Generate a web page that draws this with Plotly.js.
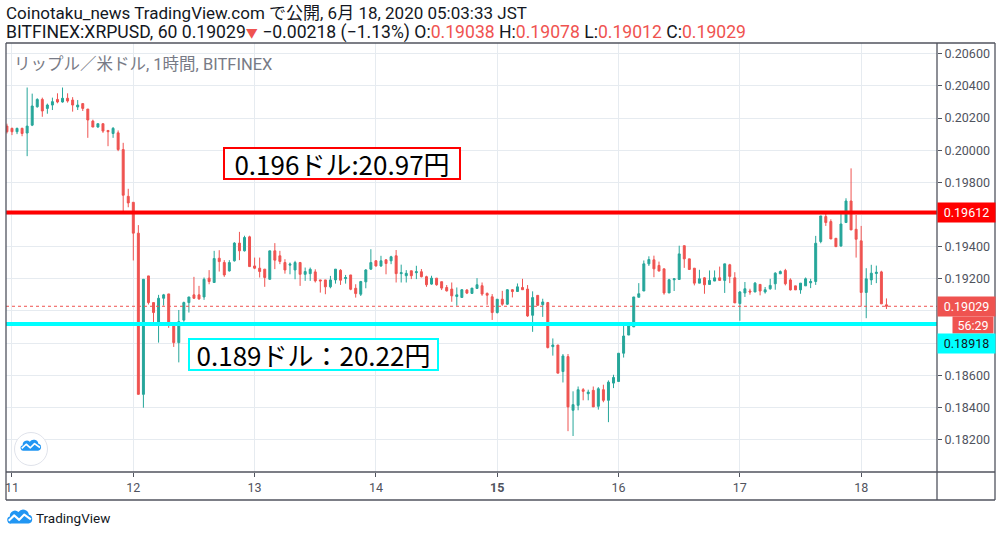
<!DOCTYPE html>
<html>
<head>
<meta charset="utf-8">
<script src="https://cdn.plot.ly/plotly-3.0.1.min.js"></script>
<style>
html,body{margin:0;padding:0;background:#fff;}
#chart{width:1002px;height:537px;}
</style>
</head>
<body>
<div id="chart"></div>
<script>
// ---- data (XRPUSD 1h candles, from 2020-06-10 23:00) ----
const startTime = '2020-06-10 23:00';
const open = [
0.20150,0.20136,0.20115,0.20136,0.20107,0.20156,0.20270,0.20316,0.20260,0.20281,
0.20316,0.20300,0.20323,0.20312,0.20269,0.20290,0.20256,0.20181,0.20144,0.20165,
0.20123,0.20104,0.20108,0.20004,0.19713,0.19676,0.19484,0.18481,0.19218,0.19052,
0.18928,0.19079,0.19106,0.18906,0.18803,0.18943,0.19052,0.19100,0.19100,0.19087,
0.19204,0.19177,0.19328,0.19301,0.19249,0.19312,0.19422,0.19374,0.19461,0.19280,
0.19266,0.19260,0.19197,0.19374,0.19343,0.19301,0.19285,0.19255,0.19301,0.19228,
0.19232,0.19243,0.19193,0.19193,0.19150,0.19193,0.19253,0.19201,0.19224,0.19141,
0.19104,0.19181,0.19260,0.19312,0.19280,0.19318,0.19312,0.19343,0.19232,0.19219,
0.19250,0.19238,0.19244,0.19213,0.19167,0.19204,0.19182,0.19146,0.19136,0.19090,
0.19084,0.19130,0.19109,0.19140,0.19157,0.19109,0.19088,0.18990,0.19073,0.19042,
0.19132,0.19121,0.19146,0.19136,0.18973,0.19097,0.19039,0.19052,0.18778,0.18788,
0.18623,0.18716,0.18382,0.18413,0.18510,0.18485,0.18506,0.18407,0.18510,0.18444,
0.18551,0.18561,0.18737,0.18850,0.18901,0.19085,0.19124,0.19293,0.19318,0.19283,
0.19262,0.19112,0.19194,0.19196,0.19406,0.19324,0.19266,0.19173,0.19206,0.19165,
0.19186,0.19206,0.19190,0.19287,0.19206,0.19046,0.19112,0.19124,0.19118,0.19165,
0.19118,0.19138,0.19169,0.19231,0.19252,0.19193,0.19156,0.19131,0.19156,0.19175,
0.19183,0.19432,0.19587,0.19556,0.19452,0.19404,0.19550,0.19684,0.19508,0.19436,
0.19115,0.19193,0.19233,0.19243,0.19038];
const high = [
0.20165,0.20140,0.20140,0.20140,0.20390,0.20352,0.20323,0.20327,0.20290,0.20327,
0.20354,0.20390,0.20354,0.20330,0.20312,0.20290,0.20256,0.20190,0.20165,0.20165,
0.20123,0.20144,0.20123,0.20046,0.19760,0.19676,0.19534,0.19197,0.19218,0.19052,
0.19100,0.19106,0.19106,0.18922,0.19006,0.19058,0.19087,0.19212,0.19156,0.19208,
0.19254,0.19374,0.19378,0.19316,0.19316,0.19428,0.19492,0.19468,0.19468,0.19332,
0.19332,0.19260,0.19374,0.19422,0.19374,0.19322,0.19301,0.19312,0.19305,0.19270,
0.19270,0.19259,0.19193,0.19193,0.19218,0.19260,0.19260,0.19224,0.19224,0.19166,
0.19187,0.19260,0.19384,0.19316,0.19343,0.19322,0.19343,0.19379,0.19288,0.19254,
0.19250,0.19281,0.19261,0.19219,0.19219,0.19204,0.19182,0.19161,0.19177,0.19146,
0.19136,0.19136,0.19142,0.19204,0.19177,0.19115,0.19105,0.19073,0.19125,0.19136,
0.19136,0.19171,0.19200,0.19161,0.19122,0.19097,0.19076,0.19056,0.18829,0.18788,
0.18732,0.18732,0.18500,0.18530,0.18520,0.18510,0.18530,0.18526,0.18541,0.18568,
0.18603,0.18737,0.18912,0.18912,0.19087,0.19173,0.19314,0.19340,0.19344,0.19307,
0.19262,0.19200,0.19200,0.19406,0.19406,0.19324,0.19266,0.19256,0.19210,0.19252,
0.19252,0.19276,0.19293,0.19293,0.19241,0.19124,0.19180,0.19138,0.19180,0.19165,
0.19149,0.19200,0.19241,0.19252,0.19262,0.19203,0.19156,0.19173,0.19208,0.19200,
0.19467,0.19591,0.19608,0.19570,0.19452,0.19607,0.19701,0.19887,0.19597,0.19529,
0.19266,0.19287,0.19282,0.19250,0.19078];
const low = [
0.20104,0.20094,0.20100,0.20087,0.19963,0.20150,0.20265,0.20208,0.20227,0.20250,
0.20292,0.20296,0.20296,0.20240,0.20250,0.20244,0.20077,0.20144,0.20140,0.20108,
0.20025,0.20077,0.19994,0.19620,0.19645,0.19314,0.18481,0.18398,0.19040,0.18928,
0.18803,0.19033,0.18895,0.18776,0.18680,0.18933,0.18990,0.19075,0.19069,0.19069,
0.19166,0.19177,0.19245,0.19212,0.19245,0.19307,0.19316,0.19370,0.19276,0.19260,
0.19208,0.19150,0.19195,0.19260,0.19291,0.19232,0.19228,0.19197,0.19156,0.19187,
0.19187,0.19177,0.19114,0.19104,0.19141,0.19170,0.19162,0.19170,0.19129,0.19083,
0.19093,0.19141,0.19255,0.19276,0.19274,0.19228,0.19291,0.19177,0.19177,0.19177,
0.19198,0.19198,0.19209,0.19150,0.19163,0.19157,0.19130,0.19121,0.19057,0.19032,
0.19084,0.19105,0.19109,0.19140,0.19094,0.19038,0.18944,0.18984,0.19032,0.19038,
0.19084,0.19121,0.19132,0.18963,0.18870,0.19031,0.18963,0.18767,0.18722,0.18613,
0.18555,0.18252,0.18222,0.18382,0.18444,0.18444,0.18403,0.18386,0.18432,0.18308,
0.18520,0.18561,0.18710,0.18850,0.18901,0.19085,0.19124,0.19280,0.19210,0.19248,
0.19101,0.19112,0.19124,0.19196,0.19268,0.19258,0.19159,0.19173,0.19107,0.19165,
0.19186,0.19190,0.19112,0.19173,0.19050,0.18939,0.19087,0.19101,0.19118,0.19097,
0.19108,0.19132,0.19132,0.19231,0.19159,0.19127,0.19131,0.19107,0.19156,0.19142,
0.19162,0.19421,0.19529,0.19448,0.19400,0.19400,0.19550,0.19504,0.19332,0.19028,
0.18955,0.19162,0.19173,0.19044,0.19012];
const close = [
0.20115,0.20115,0.20136,0.20104,0.20150,0.20275,0.20316,0.20244,0.20281,0.20302,
0.20300,0.20323,0.20306,0.20281,0.20281,0.20260,0.20188,0.20144,0.20165,0.20119,
0.20115,0.20136,0.20004,0.19720,0.19672,0.19484,0.18481,0.19197,0.19052,0.18990,
0.19079,0.19100,0.18922,0.18803,0.18933,0.19052,0.19087,0.19079,0.19075,0.19197,
0.19183,0.19326,0.19307,0.19224,0.19301,0.19422,0.19374,0.19457,0.19276,0.19266,
0.19245,0.19208,0.19374,0.19316,0.19308,0.19255,0.19291,0.19301,0.19228,0.19245,
0.19259,0.19187,0.19187,0.19150,0.19193,0.19260,0.19191,0.19208,0.19135,0.19108,
0.19183,0.19255,0.19301,0.19280,0.19312,0.19295,0.19337,0.19232,0.19238,0.19234,
0.19219,0.19244,0.19213,0.19163,0.19204,0.19163,0.19142,0.19125,0.19094,0.19100,
0.19132,0.19111,0.19142,0.19163,0.19105,0.19098,0.18990,0.19073,0.19042,0.19132,
0.19121,0.19150,0.19132,0.18969,0.19083,0.19035,0.19056,0.18772,0.18788,0.18613,
0.18720,0.18403,0.18417,0.18510,0.18500,0.18495,0.18403,0.18516,0.18444,0.18557,
0.18586,0.18737,0.18844,0.18912,0.19087,0.19107,0.19293,0.19320,0.19262,0.19248,
0.19112,0.19194,0.19200,0.19355,0.19324,0.19258,0.19173,0.19200,0.19163,0.19190,
0.19206,0.19190,0.19293,0.19215,0.19050,0.19118,0.19138,0.19118,0.19173,0.19124,
0.19132,0.19159,0.19235,0.19245,0.19169,0.19131,0.19131,0.19173,0.19200,0.19183,
0.19421,0.19591,0.19550,0.19448,0.19400,0.19541,0.19684,0.19504,0.19446,0.19115,
0.19200,0.19235,0.19241,0.19044,0.19029];

const dayTicks = ['2020-06-11','2020-06-12','2020-06-13','2020-06-14','2020-06-15','2020-06-16','2020-06-17','2020-06-18'];
const dayLabels = ['11','12','13','14','<b>15</b>','16','17','18'];
const priceTicks = [0.182,0.184,0.186,0.188,0.190,0.192,0.194,0.196,0.198,0.200,0.202,0.204,0.206];
const hiddenPriceTicks = [0.188, 0.190, 0.196]; // covered by the price boxes
const resistance = 0.19612;   // 0.196ドル
const support = 0.18918;      // 0.189ドル
const resistanceNote = '0.196ドル:20.97円';
const supportNote = '0.189ドル：20.22円';
const changeText = '−0.00218 (−1.13%)';
const countdown = '56:29';
const headerLine1 = 'Coinotaku_news TradingView.com で公開, 6月 18, 2020 05:03:33 JST';
const symbolText = 'BITFINEX:XRPUSD, 60';
const legendText = 'リップル／米ドル, 1時間, BITFINEX';

// ---- build ----
const t0 = Date.parse(startTime.replace(' ', 'T') + ':00Z');
const times = open.map((_, i) => new Date(t0 + i * 3600000).toISOString().slice(0, 16).replace('T', ' '));
const n = close.length;
const lastO = open[n-1], lastH = high[n-1], lastL = low[n-1], lastC = close[n-1];
const f5 = v => v.toFixed(5);
const RED = '#ef5350', GREEN = '#26a69a';
const sp = v => '<span style="color:' + RED + '">' + v + '</span>';
const priceText = priceTicks.map(v => hiddenPriceTicks.some(h => Math.abs(h - v) < 1e-9) ? '' : f5(v));

const W = 931, H = 429; // plot area px
const px = x => (x - 6) / W;
const py = y => (472 - y) / H;

const cloud = (fill, stroke) => '<path d="M7 19 H29 A5.5 5.5 0 0 0 29.5 8.2 A7.5 7.5 0 0 0 16 5 A6.5 6.5 0 0 0 5 10.5 A4.3 4.3 0 0 0 7 19 Z" fill="' + fill + '"/>' +
  '<polyline points="3.5,15.5 10.5,9 17,14.5 23.5,8 32,14" fill="none" stroke="' + stroke + '" stroke-width="2.6" stroke-linejoin="round"/>';
const svgFooter = '<svg xmlns="http://www.w3.org/2000/svg" width="36" height="22" viewBox="0 0 36 22">' + cloud('#2196f3', '#ffffff') + '</svg>';
const svgBadge = '<svg xmlns="http://www.w3.org/2000/svg" width="36" height="36" viewBox="0 0 36 36"><circle cx="18" cy="18" r="16.5" fill="#ffffff" stroke="#e0e3eb" stroke-width="1"/><g transform="translate(6.5,7.5) scale(0.64)">' + cloud('#2196f3', '#ffffff') + '</g></svg>';
const uri = s => 'data:image/svg+xml;charset=utf-8,' + encodeURIComponent(s);

const trace = {
  type: 'candlestick',
  x: times, open: open, high: high, low: low, close: close,
  increasing: {line: {color: GREEN, width: 1}, fillcolor: GREEN},
  decreasing: {line: {color: RED, width: 1}, fillcolor: RED},
  whiskerwidth: 0,
  hoverinfo: 'skip',
  showlegend: false
};

const FRAME = '#50535e';
const fb = -28 / H; // bottom of frame (y=500)
const fr = (995 - 6) / W; // right of frame
const shapes = [
  {type: 'line', xref: 'paper', yref: 'y', x0: 0, x1: 1, y0: resistance, y1: resistance, line: {color: '#ff0000', width: 4}},
  {type: 'line', xref: 'paper', yref: 'y', x0: 0, x1: 1, y0: support, y1: support, line: {color: '#00ffff', width: 4}},
  {type: 'line', xref: 'paper', yref: 'y', x0: 0, x1: 1, y0: lastC, y1: lastC, line: {color: RED, width: 1, dash: 'dot'}},
  {type: 'line', xref: 'paper', yref: 'paper', x0: 0, x1: fr, y0: 1, y1: 1, line: {color: FRAME, width: 1.3}},
  {type: 'line', xref: 'paper', yref: 'paper', x0: 0, x1: fr, y0: 0, y1: 0, line: {color: FRAME, width: 1.3}},
  {type: 'line', xref: 'paper', yref: 'paper', x0: 0, x1: fr, y0: fb, y1: fb, line: {color: FRAME, width: 1.3}},
  {type: 'line', xref: 'paper', yref: 'paper', x0: 0, x1: 0, y0: fb, y1: 1, line: {color: FRAME, width: 1.3}},
  {type: 'line', xref: 'paper', yref: 'paper', x0: 1, x1: 1, y0: fb, y1: 1, line: {color: FRAME, width: 1.3}},
  {type: 'line', xref: 'paper', yref: 'paper', x0: fr, x1: fr, y0: fb, y1: 1, line: {color: FRAME, width: 1.3}}
];

const axFont = {family: 'Roboto, Liberation Sans, sans-serif', size: 12.5, color: '#50535e'};
const priceBox = (y, text, bg, color, yshift) => ({
  xref: 'paper', yref: 'y', x: 1, y: y, xanchor: 'left', yanchor: 'middle', yshift: yshift || 0,
  text: text, showarrow: false, bgcolor: bg, width: 55, height: 17, borderpad: 1, align: 'center',
  font: {family: 'Roboto, Liberation Sans, sans-serif', size: 12.5, color: color}
});
const headFont = {family: 'Roboto, Noto Sans CJK JP, sans-serif', size: 17, color: '#131722'};

const annotations = [
  {xref: 'paper', yref: 'paper', x: px(4), y: py(13), xanchor: 'left', yanchor: 'middle', showarrow: false,
   text: headerLine1, font: headFont},
  {xref: 'paper', yref: 'paper', x: px(4), y: py(33), xanchor: 'left', yanchor: 'middle', showarrow: false,
   text: symbolText + ' ' + f5(lastC) + '<span style="color:' + RED + ';font-size:12px">▼</span> ' + changeText +
         ' O:' + sp(f5(lastO)) + ' H:' + sp(f5(lastH)) + ' L:' + sp(f5(lastL)) + ' C:' + sp(f5(lastC)),
   font: {family: 'Roboto, Noto Sans CJK JP, sans-serif', size: 17.6, color: '#131722'}},
  {xref: 'paper', yref: 'paper', x: px(12), y: py(64), xanchor: 'left', yanchor: 'middle', showarrow: false,
   text: legendText, font: {family: 'Roboto, Noto Sans CJK JP, sans-serif', size: 16.5, color: '#787b86'}},
  {xref: 'paper', yref: 'paper', x: px(342), y: py(163.5), xanchor: 'center', yanchor: 'middle', showarrow: false,
   text: resistanceNote, bgcolor: '#ffffff', bordercolor: '#ff0000', borderwidth: 2, borderpad: 1,
   width: 232, height: 27, align: 'center',
   font: {family: 'Noto Sans CJK JP, sans-serif', size: 26, color: '#000000'}},
  {xref: 'paper', yref: 'paper', x: px(313.5), y: py(354.5), xanchor: 'center', yanchor: 'middle', showarrow: false,
   text: supportNote, bgcolor: '#ffffff', bordercolor: '#00ffff', borderwidth: 2, borderpad: 1,
   width: 245, height: 27, align: 'center',
   font: {family: 'Noto Sans CJK JP, sans-serif', size: 26, color: '#000000'}},
  priceBox(resistance, f5(resistance), '#ff0000', '#ffffff', 0),
  priceBox(lastC, f5(lastC), RED, '#ffffff', 0),
  {xref: 'paper', yref: 'y', x: px(994), y: lastC, xanchor: 'right', yanchor: 'middle', yshift: -19, showarrow: false,
   text: countdown, bgcolor: RED, width: 38, height: 14, borderpad: 1,
   font: {family: 'Roboto, Liberation Sans, sans-serif', size: 12.5, color: '#ffffff'}},
  priceBox(support, f5(support), '#00ffff', '#131722', -19.5),
  {xref: 'paper', yref: 'paper', x: px(34), y: py(518), xanchor: 'left', yanchor: 'middle', showarrow: false,
   text: 'TradingView', font: {family: 'Roboto, Liberation Sans, sans-serif', size: 13.5, color: '#131722'}}
];

const layout = {
  width: 1002, height: 537,
  margin: {l: 6, r: 65, t: 43, b: 65, pad: 0},
  paper_bgcolor: '#ffffff', plot_bgcolor: '#ffffff',
  showlegend: false,
  boxgap: 0.45,
  xaxis: {
    type: 'date', range: ['2020-06-10 22:49', '2020-06-18 15:00'],
    rangeslider: {visible: false},
    tickmode: 'array', tickvals: dayTicks, ticktext: dayLabels,
    showgrid: true, gridcolor: '#e6ebf0', gridwidth: 1,
    ticks: 'outside', ticklen: 4, tickcolor: FRAME, tickwidth: 1,
    showline: false, zeroline: false, tickfont: axFont, fixedrange: true
  },
  yaxis: {
    side: 'right', range: [0.17998, 0.20667],
    tickmode: 'array', tickvals: priceTicks, ticktext: priceText,
    showgrid: true, gridcolor: '#e6ebf0', gridwidth: 1,
    ticks: 'outside', ticklen: 4, tickcolor: FRAME, tickwidth: 1,
    showline: false, zeroline: false, tickfont: axFont, fixedrange: true
  },
  shapes: shapes,
  annotations: annotations,
  images: [
    {source: uri(svgBadge), xref: 'paper', yref: 'paper', x: px(13), y: py(431), sizex: 36 / W, sizey: 36 / H,
     xanchor: 'left', yanchor: 'top', sizing: 'stretch', layer: 'above'},
    {source: uri(svgFooter), xref: 'paper', yref: 'paper', x: px(6), y: py(508), sizex: 28 / W, sizey: 18 / H,
     xanchor: 'left', yanchor: 'top', sizing: 'stretch', layer: 'above'}
  ]
};

Plotly.newPlot('chart', [trace], layout, {staticPlot: true, displayModeBar: false});
</script>
</body>
</html>
